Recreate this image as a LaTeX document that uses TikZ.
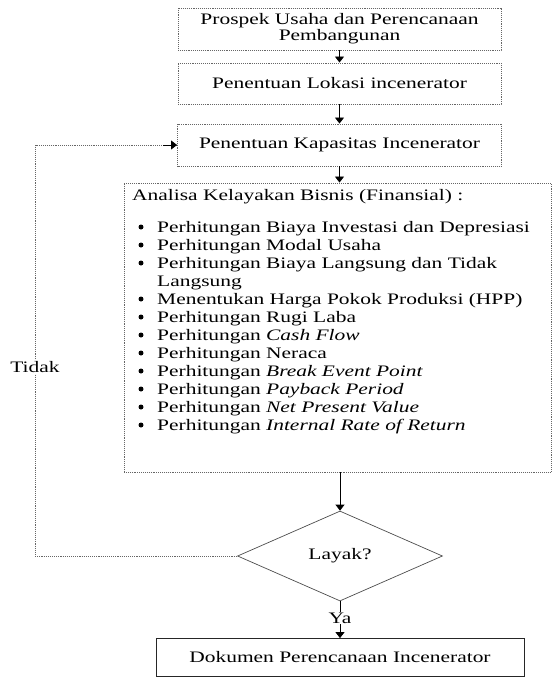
\documentclass[tikz,border=0pt]{standalone}
\usepackage{fontspec}
\setmainfont{Liberation Serif}[FakeStretch=1.34]
\usetikzlibrary{arrows.meta,shapes.geometric}
\begin{document}
\begin{tikzpicture}[x=1pt,y=-1pt,
  every node/.style={font=\fontsize{16}{18}\selectfont, inner sep=0pt},
  dotbox/.style={draw=black!60, densely dotted, line width=0.9pt, align=center},
  solidbox/.style={draw=black!85, line width=0.8pt, align=center},
  decision/.style={diamond, draw=black!70, line width=0.7pt, minimum width=205pt, minimum height=90pt},
  arr/.style={-{Triangle[width=9pt,length=6pt]}, line width=0.7pt, black},
  fb/.style={draw=black!60, densely dotted, line width=0.9pt},
  itemtext/.style={anchor=base west},
  bul/.style={circle, fill=black, minimum size=5pt},
  lbl/.style={fill=white, inner sep=1pt},
]
\useasboundingbox (0,0) rectangle (552,678);

\node[dotbox, minimum width=323pt, minimum height=42pt] (b1) at (339.5,29)
  {Prospek Usaha dan Perencanaan\\[-2pt]Pembangunan};
\node[dotbox, minimum width=323pt, minimum height=41pt] (b2) at (339.5,83.5)
  {Penentuan Lokasi incenerator};
\node[dotbox, minimum width=324pt, minimum height=42pt] (b3) at (339.5,145)
  {Penentuan Kapasitas Incenerator};
\node[dotbox, minimum width=427pt, minimum height=289pt] (b4) at (337.5,327.5) {};
\node[decision] (d) at (340,556) {Layak?};
\node[solidbox, minimum width=368pt, minimum height=38pt] (b5) at (340,657.5)
  {Dokumen Perencanaan Incenerator};

% list contents
\node[itemtext] (t0) at (132,200) {Analisa Kelayakan Bisnis (Finansial) :};
\node[bul] (u1) at (141,227) {};
\node[itemtext] (i1) at (157,232) {Perhitungan Biaya Investasi dan Depresiasi};
\node[bul] (u2) at (141,245) {};
\node[itemtext] (i2) at (157,250) {Perhitungan Modal Usaha};
\node[bul] (u3) at (141,263) {};
\node[itemtext] (i3) at (157,268) {Perhitungan Biaya Langsung dan Tidak};
\node[itemtext] (i3b) at (157,286) {Langsung};
\node[bul] (u4) at (141,299) {};
\node[itemtext] (i4) at (157,304) {Menentukan Harga Pokok Produksi (HPP)};
\node[bul] (u5) at (141,317) {};
\node[itemtext] (i5) at (157,322) {Perhitungan Rugi Laba};
\node[bul] (u6) at (141,335) {};
\node[itemtext] (i6) at (157,340) {Perhitungan \textit{Cash Flow}};
\node[bul] (u7) at (141,353) {};
\node[itemtext] (i7) at (157,358) {Perhitungan Neraca};
\node[bul] (u8) at (141,371) {};
\node[itemtext] (i8) at (157,376) {Perhitungan \textit{Break Event Point}};
\node[bul] (u9) at (141,389) {};
\node[itemtext] (i9) at (157,394) {Perhitungan \textit{Payback Period}};
\node[bul] (u10) at (141,407) {};
\node[itemtext] (i10) at (157,412) {Perhitungan \textit{Net Present Value}};
\node[bul] (u11) at (141,425) {};
\node[itemtext] (i11) at (157,430) {Perhitungan \textit{Internal Rate of Return}};

% connectors
\draw[arr] (b1.south) -- (b2.north);
\draw[arr] (b2.south) -- (b3.north);
\draw[arr] (b3.south) -- (b3.south |- b4.north);
\draw[arr] (d.north |- b4.south) -- (d.north);
\draw[arr] (d.south) -- node[lbl, pos=0.45] (ya) {Ya} (b5.north);

\coordinate (fbL) at (35,556);
\coordinate (fbT) at (35,145);
\draw[fb] (d.west) -- (fbL) -- node[lbl, pos=0.46] (tidak) {Tidak} (fbT) -- (b3.west);
\draw[arr] ([xshift=-14pt]b3.west) -- (b3.west);
\end{tikzpicture}
\end{document}
